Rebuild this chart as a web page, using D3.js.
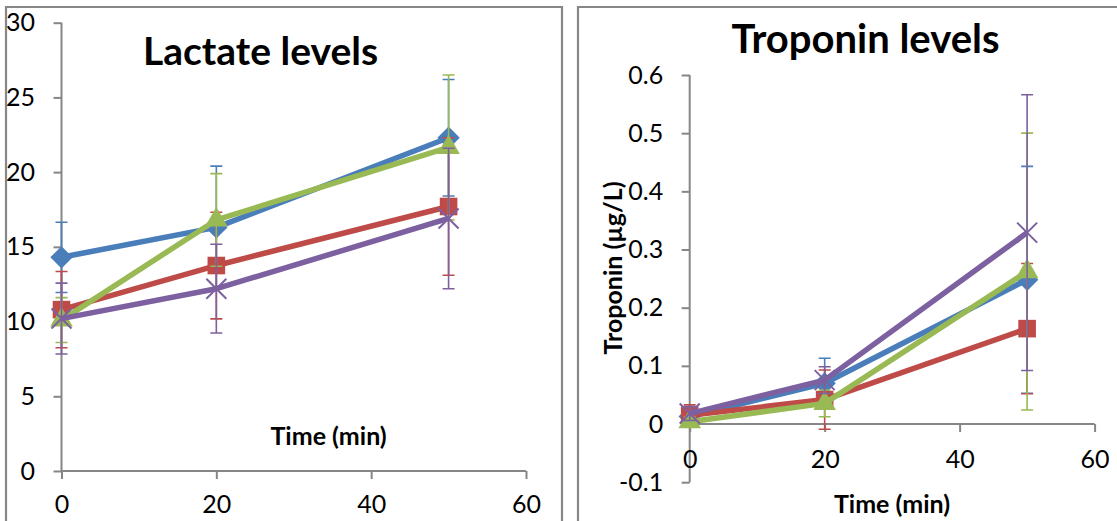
<!DOCTYPE html>
<html>
<head>
<meta charset="utf-8">
<script src="https://cdn.jsdelivr.net/npm/d3@7"></script>
<style>
  html, body { margin: 0; padding: 0; background: #ffffff; }
  svg { display: block; }
  text { font-family: Lato, "Open Sans", sans-serif; fill: #000; }
</style>
</head>
<body>
<svg id="chart" width="1117" height="521"></svg>
<script>
// ---------- data ----------
const times = [0, 20, 50];

const xTicks = [0, 20, 40, 60];
const lactateTicks = [0, 5, 10, 15, 20, 25, 30];
const troponinTicks = [-0.1, 0, 0.1, 0.2, 0.3, 0.4, 0.5, 0.6];

const lactateBlue = [14.3, 16.3, 22.3];
const lactateBlueErr = [2.35, 4.1, 3.9];
const lactateRed = [10.8, 13.75, 17.7];
const lactateRedErr = [2.55, 3.57, 4.6];
const lactateGreen = [10.1, 16.8, 21.65];
const lactateGreenErr = [1.5, 3.1, 4.85];
const lactatePurple = [10.2, 12.2, 16.9];
const lactatePurpleErr = [2.37, 2.97, 4.7];

const troponinBlue = [0.013, 0.070, 0.248];
const troponinBlueErr = [0.012, 0.043, 0.195];
const troponinRed = [0.015, 0.042, 0.164];
const troponinRedErr = [0.018, 0.051, 0.112];
const troponinGreen = [0.004, 0.0355, 0.262];
const troponinGreenErr = [0.008, 0.023, 0.238];
const troponinPurple = [0.018, 0.0755, 0.329];
const troponinPurpleErr = [0.012, 0.023, 0.237];

const colors = { blue: "#4a7ebb", red: "#be4b48", green: "#98b954", purple: "#7d60a0" };

// ---------- helpers ----------
const svg = d3.select("#chart");
const axisGray = "#868686";
const frameGray = "#878787";

function makeSeries(vals, errs, color, marker) {
  return { points: times.map((t, i) => ({ t, v: vals[i], e: errs[i] })), color, marker };
}

function drawPanel(cfg) {
  const g = svg.append("g");
  const x = d3.scaleLinear().domain([0, 60]).range(cfg.xRange);
  const y = d3.scaleLinear().domain(cfg.yDomain).range(cfg.yRange);

  // y axis
  const yAxis = d3.axisLeft(y).tickValues(cfg.yTicks).tickSize(8).tickPadding(cfg.yPad)
    .tickFormat(cfg.yFormat);
  const ya = g.append("g").attr("transform", `translate(${x(0)},0)`).call(yAxis);
  ya.select(".domain").attr("stroke", axisGray).attr("stroke-width", 2)
    .attr("d", `M0,${y(cfg.yDomain[0])}V${y(cfg.yDomain[1])}`);
  ya.selectAll(".tick line").attr("stroke", axisGray).attr("stroke-width", 2);
  ya.selectAll(".tick text").style("font-size", "25px").attr("fill", "#000");

  // x axis
  const xAxis = d3.axisBottom(x).tickValues(xTicks).tickSize(8).tickPadding(cfg.xPad)
    .tickFormat(d3.format("d"));
  const xa = g.append("g").attr("transform", `translate(0,${y(0)})`).call(xAxis);
  xa.select(".domain").attr("stroke", axisGray).attr("stroke-width", 2)
    .attr("d", `M${x(0)},0H${x(60)}`);
  xa.selectAll(".tick line").attr("stroke", axisGray).attr("stroke-width", 2);
  xa.selectAll(".tick text").style("font-size", "25px").attr("fill", "#000");

  const line = d3.line().x(d => x(d.t)).y(d => y(d.v));

  cfg.series.forEach(s => {
    const sg = g.append("g");
    // error bars
    s.points.forEach(p => {
      const cx = x(p.t), y1 = y(p.v + p.e), y2 = y(p.v - p.e);
      sg.append("path")
        .attr("d", `M${cx},${y1}V${y2}M${cx - 6},${y1}H${cx + 6}M${cx - 6},${y2}H${cx + 6}`)
        .attr("stroke", s.color).attr("stroke-width", 1.6).attr("fill", "none");
    });
    // line
    sg.append("path").datum(s.points).attr("d", line)
      .attr("stroke", s.color).attr("stroke-width", 5.5).attr("fill", "none")
      .attr("stroke-linejoin", "round");
    // markers
    s.points.forEach(p => {
      const cx = x(p.t), cy = y(p.v);
      if (s.marker === "diamond") {
        sg.append("path").attr("d", d3.symbol(d3.symbolSquare, 250)())
          .attr("transform", `translate(${cx},${cy}) rotate(45)`).attr("fill", s.color);
      } else if (s.marker === "square") {
        sg.append("path").attr("d", d3.symbol(d3.symbolSquare, 310)())
          .attr("transform", `translate(${cx},${cy})`).attr("fill", s.color);
      } else if (s.marker === "triangle") {
        sg.append("path").attr("d", d3.symbol(d3.symbolTriangle, 220)())
          .attr("transform", `translate(${cx},${cy})`).attr("fill", s.color);
      } else if (s.marker === "x") {
        const r = 10;
        sg.append("path")
          .attr("d", `M${cx - r},${cy - r}L${cx + r},${cy + r}M${cx - r},${cy + r}L${cx + r},${cy - r}`)
          .attr("stroke", s.color).attr("stroke-width", 2).attr("fill", "none");
      }
    });
  });
  return { g, x, y };
}

// ---------- frames ----------
svg.append("path").attr("d", "M6,530V7H562V530").attr("stroke", frameGray)
  .attr("stroke-width", 2.2).attr("fill", "none");
svg.append("path").attr("d", "M578,530V7H1125").attr("stroke", frameGray)
  .attr("stroke-width", 2.2).attr("fill", "none");

// ---------- left panel: lactate ----------
const left = drawPanel({
  xRange: [61.5, 526],
  yDomain: [0, 30], yRange: [471, 22.7],
  yTicks: lactateTicks, yFormat: d3.format("d"),
  yPad: 18.5, xPad: 16.5,
  series: [
    makeSeries(lactateBlue, lactateBlueErr, colors.blue, "diamond"),
    makeSeries(lactateRed, lactateRedErr, colors.red, "square"),
    makeSeries(lactateGreen, lactateGreenErr, colors.green, "triangle"),
    makeSeries(lactatePurple, lactatePurpleErr, colors.purple, "x")
  ]
});
svg.append("text").attr("x", 260.5).attr("y", 65).attr("text-anchor", "middle")
  .style("font-size", "39px").style("font-weight", "bold").text("Lactate levels");
svg.append("text").attr("x", 328.6).attr("y", 445).attr("text-anchor", "middle")
  .style("font-size", "25px").style("font-weight", "bold").text("Time (min)");

// ---------- right panel: troponin ----------
const right = drawPanel({
  xRange: [689.7, 1094.6],
  yDomain: [-0.1, 0.6], yRange: [482.2, 75],
  yTicks: troponinTicks, yFormat: d => d3.format(".1f")(d).replace("0.0", "0").replace("−", "-"),
  yPad: 18.5, xPad: 18.5,
  series: [
    makeSeries(troponinBlue, troponinBlueErr, colors.blue, "diamond"),
    makeSeries(troponinRed, troponinRedErr, colors.red, "square"),
    makeSeries(troponinGreen, troponinGreenErr, colors.green, "triangle"),
    makeSeries(troponinPurple, troponinPurpleErr, colors.purple, "x")
  ]
});
svg.append("text").attr("x", 865.5).attr("y", 53).attr("text-anchor", "middle")
  .style("font-size", "40px").style("font-weight", "bold").text("Troponin levels");
svg.append("text").attr("x", 892).attr("y", 513).attr("text-anchor", "middle")
  .style("font-size", "25px").style("font-weight", "bold").text("Time (min)");
svg.append("text").attr("transform", "translate(622,268) rotate(-90)").attr("text-anchor", "middle")
  .style("font-size", "25px").style("font-weight", "bold").text("Troponin (µg/L)");
</script>
</body>
</html>
